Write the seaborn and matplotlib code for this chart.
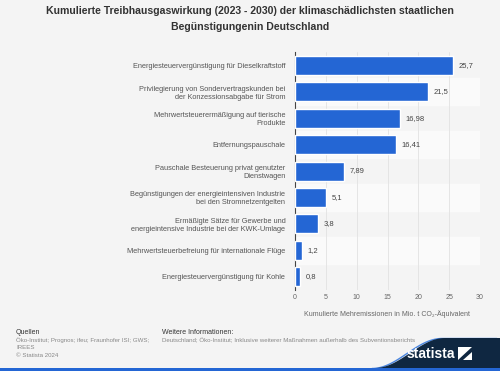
import matplotlib
matplotlib.use("Agg")
import matplotlib.pyplot as plt
import seaborn as sns
import pandas as pd
import numpy as np
from matplotlib.patches import Polygon, Rectangle

categories = [
    "Energiesteuervergünstigung für Dieselkraftstoff",
    "Privilegierung von Sondervertragskunden bei\nder Konzessionsabgabe für Strom",
    "Mehrwertsteuerermäßigung auf tierische\nProdukte",
    "Entfernungspauschale",
    "Pauschale Besteuerung privat genutzter\nDienstwagen",
    "Begünstigungen der energieintensiven Industrie\nbei den Stromnetzentgelten",
    "Ermäßigte Sätze für Gewerbe und\nenergieintensive Industrie bei der KWK-Umlage",
    "Mehrwertsteuerbefreiung für internationale Flüge",
    "Energiesteuervergünstigung für Kohle",
]
values = [25.7, 21.5, 16.98, 16.41, 7.89, 5.1, 3.8, 1.2, 0.8]
value_labels = ["25,7", "21,5", "16,98", "16,41", "7,89", "5,1", "3,8", "1,2", "0,8"]
x_ticks = [0, 5, 10, 15, 20, 25, 30]
source_lines = ["Öko-Institut; Prognos; ifeu; Fraunhofer ISI; GWS;", "IREES", "© Statista 2024"]

df = pd.DataFrame({"cat": categories, "val": values})

sns.set_theme(style="white")
plt.rcParams["font.family"] = ["Liberation Sans", "DejaVu Sans"]

bg = "#f4f4f4"
fig = plt.figure(figsize=(5, 3.71), dpi=100, facecolor=bg)
ax = fig.add_axes([0.59, 0.218, 0.37, 0.642])
ax.set_facecolor(bg)

# alternating row bands
for i in range(len(categories)):
    if i % 2 == 1:
        ax.axhspan(i - 0.5, i + 0.5, color="#fafafa", zorder=0)

sns.barplot(data=df, x="val", y="cat", orient="h", color="#2466d4",
            width=0.72, ax=ax, zorder=3, saturation=1)

ax.set_xlim(0, 30)
ax.set_ylim(len(categories) - 0.5, -0.5)
ax.set_xticks(x_ticks)
ax.set_xticklabels([str(t) for t in x_ticks], fontsize=5, color="#666666")
ax.xaxis.grid(True, color="#e2e2e2", linewidth=0.6, zorder=1)
ax.set_axisbelow(True)
ax.tick_params(axis="y", labelsize=5.3, labelcolor="#555555", length=0, pad=7)
ax.tick_params(axis="x", length=0, pad=3)
for lbl in ax.get_yticklabels():
    lbl.set_horizontalalignment("right")
    lbl.set_multialignment("right")
ax.set_ylabel("")
ax.set_xlabel("Kumulierte Mehremissionen in Mio. t CO₂-Äquivalent", fontsize=5,
              color="#666666")
ax.xaxis.set_label_coords(0.5, -0.085)
for s in ["top", "right", "bottom"]:
    ax.spines[s].set_visible(False)
ax.spines["left"].set_color("#444444")
ax.spines["left"].set_linewidth(0.8)

for i, (v, t) in enumerate(zip(values, value_labels)):
    ax.text(v + 0.9, i, t, va="center", ha="left", fontsize=5.5, color="#444444", zorder=4)

fig.text(0.5, 0.949, "Kumulierte Treibhausgaswirkung (2023 - 2030) der klimaschädlichsten staatlichen\nBegünstigungenin Deutschland",
         ha="center", va="center", fontsize=7.6, fontweight="bold", color="#333333", linespacing=1.65)

# footer
def fy(py):
    return 1 - py / 371

fig.text(0.032, fy(333), "Quellen", fontsize=5, color="#333333", va="center")
for k, line in enumerate(source_lines):
    fig.text(0.032, fy(340.5 + 7.3 * k), line, fontsize=4.4, color="#888888", va="center")
fig.text(0.323, fy(333), "Weitere Informationen:", fontsize=5, color="#333333", va="center")
fig.text(0.323, fy(340.5), "Deutschland; Öko-Institut; Inklusive weiterer Maßnahmen außerhalb des Subventionsberichts",
         fontsize=4.4, color="#888888", va="center")

# statista logo wave
fig_ax = fig.add_axes([0, 0, 1, 1], facecolor="none")
fig_ax.set_xlim(0, 500)
fig_ax.set_ylim(371, 0)
fig_ax.axis("off")
wx = np.linspace(375, 445, 40)
wy = 368 - 30 * (0.5 - 0.5 * np.cos((wx - 375) / 70 * np.pi))
edge = list(zip(wx, wy)) + [(500, 338)]
fig_ax.add_patch(Polygon([(375, 368)] + edge + [(500, 368)], closed=True,
                         facecolor="#0f2741", edgecolor="none", zorder=5))
ex, ey = zip(*edge)
fig_ax.plot(np.array(ex) - 3, np.array(ey) + 0.5, color="#4a86e0", lw=1.0, zorder=4.5)
fig_ax.add_patch(Rectangle((0, 367.5), 500, 3.5, facecolor="#2466d4", edgecolor="none", zorder=6))
fig_ax.text(455, 354, "statista", fontsize=10, fontweight="bold", color="white",
            ha="right", va="center", zorder=7)
fig_ax.add_patch(Rectangle((458, 347), 14, 13, facecolor="white", edgecolor="none", zorder=7))
fig_ax.add_patch(Polygon([(458, 360), (472, 347), (472, 352), (463, 360)], closed=True,
                         facecolor="#0f2741", edgecolor="none", zorder=8))

fig.savefig("out.png", dpi=100, facecolor=bg)
